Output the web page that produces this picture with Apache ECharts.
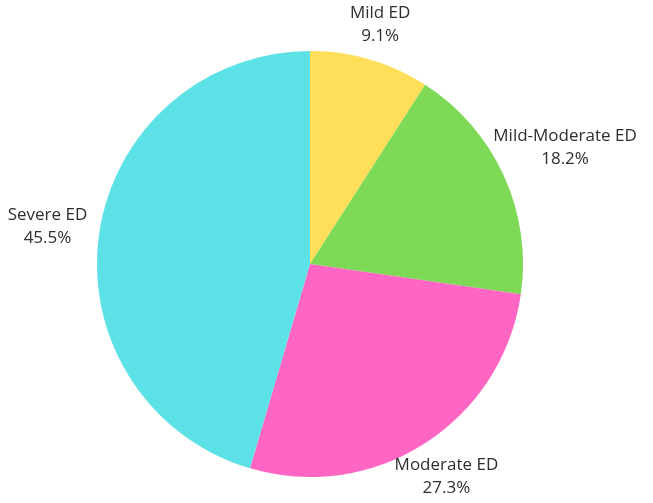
<!DOCTYPE html>
<html>
<head>
<meta charset="utf-8">
<script src="https://cdn.jsdelivr.net/npm/echarts@6/dist/echarts.min.js"></script>
<style>
  html, body { margin: 0; padding: 0; background: #fff; }
  #main { width: 653px; height: 503px; }
</style>
</head>
<body>
<div id="main"></div>
<script>
var categories = ['Mild ED', 'Mild-Moderate ED', 'Moderate ED', 'Severe ED'];
var percents = [9.1, 18.2, 27.3, 45.5];
var colors = ['#FFDE59', '#7ED957', '#FF66C4', '#5CE1E6'];

var cx = 310, cy = 264, radius = 213, gap = 12;

var total = percents.reduce(function (a, b) { return a + b; }, 0);
// mid angle of each slice, clockwise from 12 o'clock
var midAngles = [];
var acc = 0;
percents.forEach(function (v) {
    midAngles.push((acc + v / 2) / total * Math.PI * 2);
    acc += v;
});

var myChart = echarts.init(document.getElementById('main'));

var option = {
    backgroundColor: '#ffffff',
    animation: false,
    series: [{
        type: 'pie',
        center: [cx, cy],
        radius: radius,
        startAngle: 90,
        clockwise: true,
        data: categories.map(function (c, i) {
            return { name: c, value: percents[i], itemStyle: { color: colors[i] } };
        }),
        label: {
            show: true,
            position: 'outside',
            formatter: function (p) { return p.name + '\n' + p.value.toFixed(1) + '%'; },
            color: '#2e2e2e',
            fontFamily: 'Open Sans',
            fontSize: 17,
            lineHeight: 23,
            align: 'center',
            overflow: 'none'
        },
        labelLine: { show: false },
        labelLayout: function (params) {
            // push the label box out along the mid angle until its edge clears the pie
            var a = midAngles[params.dataIndex];
            var ux = Math.sin(a), uy = -Math.cos(a);
            var w = params.labelRect.width, h = params.labelRect.height;
            var t = Math.min(
                Math.abs(ux) > 1e-6 ? w / 2 / Math.abs(ux) : Infinity,
                Math.abs(uy) > 1e-6 ? h / 2 / Math.abs(uy) : Infinity
            );
            var d = radius + gap + t;
            return {
                x: cx + d * ux,
                y: cy + d * uy,
                align: 'center',
                verticalAlign: 'middle'
            };
        }
    }]
};

myChart.setOption(option);
</script>
</body>
</html>
